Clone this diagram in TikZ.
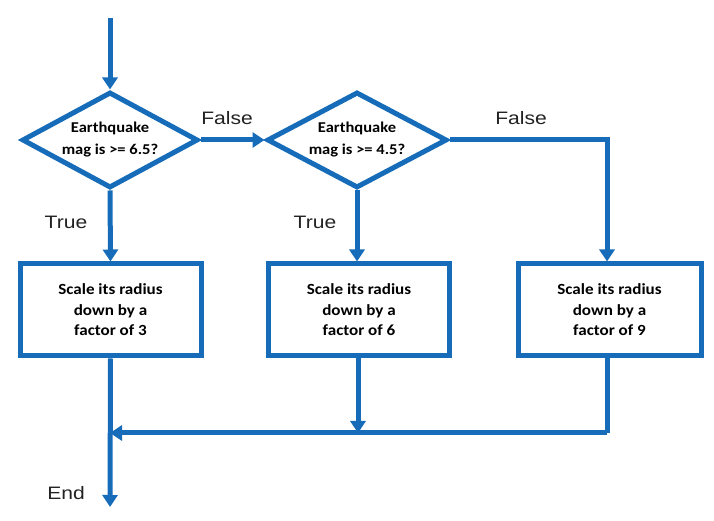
\documentclass[tikz,border=0pt]{standalone}
\usepackage{fontspec}
\setmainfont[FakeStretch=1.1]{Carlito}
\newfontfamily\labfont[FakeStretch=1.17]{Liberation Sans}
\usetikzlibrary{shapes.geometric,arrows.meta}
\definecolor{fblue}{RGB}{22,108,185}
\definecolor{labgray}{RGB}{34,34,34}
\begin{document}
\begin{tikzpicture}[x=1pt,y=1pt,
  line/.style={draw=fblue,line width=5pt},
  arr/.style={line,-{Triangle[width=15pt,length=12pt]}},
  dec/.style={diamond,shape aspect=1.83,draw=fblue,line width=5pt,inner sep=0pt,align=center,font=\bfseries\fontsize{15}{22}\selectfont,minimum width=176pt,minimum height=96pt},
  box/.style={rectangle,draw=fblue,line width=5pt,inner sep=0pt,align=center,font=\bfseries\fontsize{15.5}{20.5}\selectfont,minimum width=181pt,minimum height=92pt},
  lab/.style={font=\labfont\fontsize{18}{20}\selectfont,text=labgray}]
\useasboundingbox (0,0) rectangle (714,521);
\coordinate (start) at (110,503);
\node[dec] (d1) at (110,381) {Earthquake\\mag is >= 6.5?};
\node[dec,minimum width=180pt] (d2) at (357,381) {Earthquake\\mag is >= 4.5?};
\node[box] (b1) at (110.5,211) {Scale its radius\\down by a\\factor of 3};
\node[box] (b2) at (359,211) {Scale its radius\\down by a\\factor of 6};
\node[box,minimum width=183pt] (b3) at (609.5,211) {Scale its radius\\down by a\\factor of 9};
\coordinate (c3) at (607,381);
\coordinate (j3) at (607,88);
\coordinate (j2) at (358,88);
\coordinate (j1) at (110,88);
\coordinate (endpt) at (110,14);
\draw[arr] (start) -- (d1.north);
\draw[arr] (d1.east) -- (d2.west);
\draw[arr] (d1.south) -- (b1.north);
\draw[arr] (d2.south) -- (d2.south |- b2.north);
\draw[arr] (d2.east) -- (c3) -- (c3 |- b3.north);
\draw[line] (j3 |- b3.south) -- (j3);
\draw[arr] (j3) -- (j1);
\draw[arr] (j2 |- b2.south) -- (j2);
\draw[arr] (b1.south) -- (endpt);
\node[lab] (f1) at (227,403) {False};
\node[lab] (f2) at (521,403) {False};
\node[lab] (t1) at (66,299) {True};
\node[lab] (t2) at (315,299) {True};
\node[lab] (e) at (66,28) {End};
\end{tikzpicture}
\end{document}
